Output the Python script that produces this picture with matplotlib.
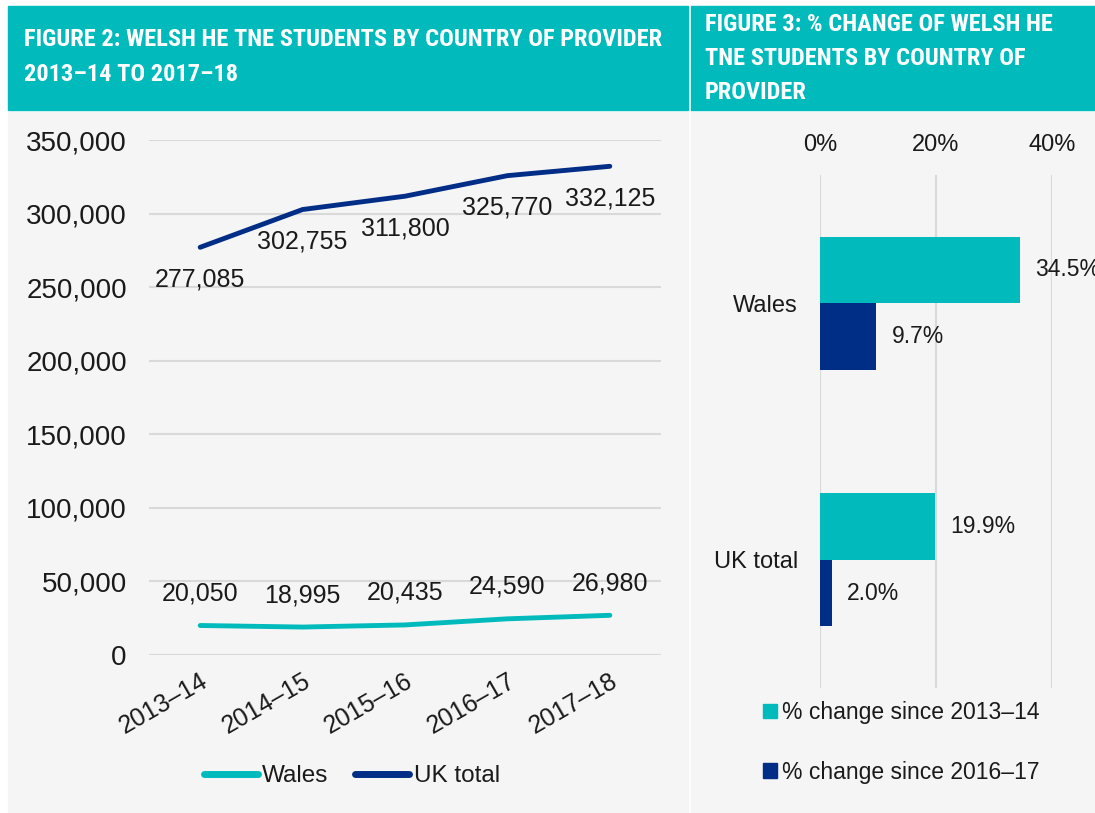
import os
import matplotlib
matplotlib.use("Agg")
import matplotlib.pyplot as plt
import numpy as np
from matplotlib import font_manager as fm
from matplotlib.patches import Rectangle, Patch
from matplotlib.lines import Line2D

TEAL = "#00BABC"
NAVY = "#002D85"
PANEL = "#F5F5F5"
GRID = "#D9D9D9"
INK = "#1A1A1A"

W, H = 1095, 813

# figure 2 data
years = ["2013\u201314", "2014\u201315", "2015\u201316", "2016\u201317", "2017\u201318"]
wales = [20050, 18995, 20435, 24590, 26980]
uk_total = [277085, 302755, 311800, 325770, 332125]

# figure 3 data
countries = ["Wales", "UK total"]
change_since_1314 = [34.5, 19.9]
change_since_1617 = [9.7, 2.0]

title2 = "FIGURE 2: WELSH HE TNE STUDENTS BY COUNTRY OF PROVIDER\n2013\u201314 TO 2017\u201318"
title3 = "FIGURE 3: % CHANGE OF WELSH HE\nTNE STUDENTS BY COUNTRY OF\nPROVIDER"

plt.rcParams["font.family"] = ["Liberation Sans", "DejaVu Sans"]


def condensed_bold():
    # headers use a bold condensed face; take whichever one is installed
    order = ["roboto", "liberationsans", "notosans", "opensans", "dejavusans"]
    found = []
    for f in fm.fontManager.ttflist:
        name = os.path.basename(f.fname).lower().replace("-", "").replace("_", "")
        if not ("condensed" in name or "narrow" in name):
            continue
        if "bold" not in name or any(k in name for k in ["italic", "semi", "extra", "mono", "serif", "oblique"]):
            continue
        rank = next((i for i, k in enumerate(order) if name.startswith(k)), len(order))
        found.append((rank, f.fname))
    if found:
        return fm.FontProperties(fname=sorted(found)[0][1])
    return fm.FontProperties(family="Liberation Sans", weight="bold")


def fx(px):
    return px / W


def fy(py):
    return 1 - py / H


fig = plt.figure(figsize=(W / 100, H / 100), dpi=100, facecolor="white")

# panel backgrounds and header bands
for x0, x1, y0, y1, col in [
    (8, 688, 112, 812, PANEL),
    (691, 1095, 112, 812, PANEL),
    (8, 688, 6, 110, TEAL),
    (691, 1095, 6, 110, TEAL),
]:
    fig.patches.append(Rectangle((fx(x0), fy(y1)), fx(x1) - fx(x0), fy(y0) - fy(y1),
                                 transform=fig.transFigure, color=col, zorder=-5))

# header titles, sized so the long first line fits the band like the original
hp = condensed_bold()
renderer = fig.canvas.get_renderer()
probe = fig.text(0, 0, title2.split("\n")[0], fontproperties=hp, fontsize=17)
wpx = probe.get_window_extent(renderer).width
probe.remove()
hsize = min(22, 17 * 641 / wpx)
fig.text(fx(24), fy(28), title2, color="white", fontproperties=hp, fontsize=hsize,
         va="top", ha="left", linespacing=1.65)
fig.text(fx(705), fy(13), title3, color="white", fontproperties=hp, fontsize=hsize,
         va="top", ha="left", linespacing=1.6)

# ---- figure 2: line chart
ax = fig.add_axes([fx(149), fy(655), fx(661) - fx(149), fy(140) - fy(655)])
ax.set_facecolor("none")
x = np.arange(len(years))
ax.plot(x, wales, color=TEAL, lw=3.5, solid_capstyle="round")
ax.plot(x, uk_total, color=NAVY, lw=3.5, solid_capstyle="round")
for xi, v in zip(x, wales):
    ax.annotate(f"{v:,}", (xi, v), xytext=(0, 23), textcoords="offset points",
                ha="center", va="center", fontsize=18, color=INK)
for xi, v in zip(x, uk_total):
    ax.annotate(f"{v:,}", (xi, v), xytext=(0, -23), textcoords="offset points",
                ha="center", va="center", fontsize=18, color=INK)
ax.set_xlim(-0.5, len(years) - 0.5)
ax.set_ylim(0, 350000)
ax.set_yticks(np.arange(0, 350001, 50000))
ax.set_yticklabels([f"{v:,}" for v in range(0, 350001, 50000)])
ax.set_xticks(x)
ax.set_xticklabels(years, rotation=30, ha="right", rotation_mode="anchor")
ax.tick_params(axis="y", length=0, pad=16, labelsize=20, labelcolor=INK)
ax.tick_params(axis="x", length=0, pad=10, labelsize=18, labelcolor=INK)
ax.grid(axis="y", color=GRID, lw=1.5)
ax.set_axisbelow(True)
for s in ax.spines.values():
    s.set_visible(False)

fig.legend(handles=[Line2D([], [], color=TEAL, lw=5, solid_capstyle="round"),
                    Line2D([], [], color=NAVY, lw=5, solid_capstyle="round")],
           labels=["Wales", "UK total"], loc="center", bbox_to_anchor=(fx(352), fy(776)),
           ncol=2, frameon=False, fontsize=17.5, handlelength=2.2, handletextpad=0.2,
           columnspacing=1.1, labelcolor=INK)

# ---- figure 3: bar chart
bx = fig.add_axes([fx(820), fy(688), fx(1052) - fx(820), fy(175) - fy(688)])
bx.set_facecolor("none")
y = np.arange(len(countries))
bh = 0.26
bars1 = bx.barh(y - bh / 2, change_since_1314, height=bh, color=TEAL)
bars2 = bx.barh(y + bh / 2, change_since_1617, height=bh, color=NAVY)
for bars, vals in [(bars1, change_since_1314), (bars2, change_since_1617)]:
    for b, v in zip(bars, vals):
        bx.annotate(f"{v:.1f}%", (v, b.get_y() + b.get_height() / 2), xytext=(11, 0),
                    textcoords="offset points", ha="left", va="center",
                    fontsize=16.5, color=INK, annotation_clip=False)
bx.set_xlim(0, 40)
bx.set_ylim(-0.5, len(countries) - 0.5)
bx.invert_yaxis()
bx.set_xticks([0, 20, 40])
bx.set_xticklabels(["0%", "20%", "40%"])
bx.xaxis.tick_top()
bx.set_yticks(y)
bx.set_yticklabels(countries)
bx.tick_params(axis="x", length=0, pad=14, labelsize=17, labelcolor=INK)
bx.tick_params(axis="y", length=0, pad=16, labelsize=17, labelcolor=INK)
bx.grid(axis="x", color=GRID, lw=1.5)
bx.set_axisbelow(True)
for s in bx.spines.values():
    s.set_visible(False)

fig.legend(handles=[Patch(color=TEAL), Patch(color=NAVY)],
           labels=["% change since 2013\u201314", "% change since 2016\u201317"],
           loc="upper left", bbox_to_anchor=(fx(763), fy(701)), frameon=False,
           fontsize=16.5, handlelength=0.6, handleheight=0.6, handletextpad=0.25,
           labelspacing=1.6, borderpad=0, borderaxespad=0, labelcolor=INK)

fig.savefig("out.png", dpi=100, facecolor="white")
